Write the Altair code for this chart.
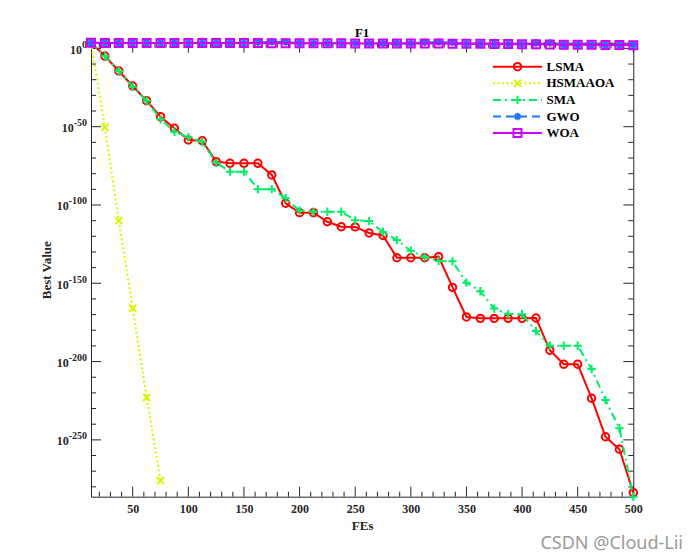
import altair as alt
import pandas as pd

# ---------------- data (log10 of Best Value) ----------------
FES = [12.5, 25, 37.5, 50, 62.5, 75, 87.5, 100, 112.5, 125, 137.5, 150, 162.5, 175,
       187.5, 200, 212.5, 225, 237.5, 250, 262.5, 275, 287.5, 300, 312.5, 325, 337.5,
       350, 362.5, 375, 387.5, 400, 412.5, 425, 437.5, 450, 462.5, 475, 487.5, 500]

LSMA = [3.6, -4.9, -14.4, -24, -33.4, -43.6, -51, -58.5, -58.9, -72.3, -73.4, -73.4,
        -73.4, -80.8, -98.9, -104.9, -104.9, -110.7, -113.9, -114, -117.9, -119.5,
        -133.7, -133.7, -133.7, -133, -152.6, -171.5, -172.4, -172.4, -172.4, -172.4,
        -172.2, -192.8, -201.7, -201.7, -223.4, -248, -256, -283.7]

HSMAAOA = [3.6, -50.4, -110, -166, -223, -276]

SMA = [3.6, -4.9, -14.4, -24.5, -33.4, -45.3, -53.2, -56.8, -59.6, -73, -78.7, -78.7,
       -89.9, -89.9, -95.7, -103.6, -104.3, -104.3, -104.3, -109.8, -110.3, -117.2,
       -122.4, -129.2, -133.2, -135.7, -136, -149.6, -155.1, -166.1, -169.6, -169.8,
       -180.5, -189.9, -189.9, -189.9, -204.8, -224.5, -242.6, -286.3]

GWO = [3.6, 3.5, 3.5, 3.5, 3.5, 3.5, 3.5, 3.4, 3.4, 3.4, 3.4, 3.4, 3.9, 4.2, 4.1, 3.4,
       3.3, 3.3, 3.3, 3.2, 3.2, 3.2, 3.2, 3.1, 3.9, 4.0, 3.8, 3.0, 2.9, 2.8, 2.8, 2.7,
       3.4, 3.5, 2.4, 2.3, 2.3, 2.2, 2.1, 2.3]

WOA = [3.6, 3.5, 3.5, 3.5, 3.5, 3.5, 3.5, 3.4, 3.4, 3.4, 3.4, 3.4, 3.4, 3.3, 3.3, 3.3,
       3.3, 3.3, 3.3, 3.2, 3.2, 3.2, 3.2, 3.1, 3.1, 3.1, 3.0, 3.0, 2.9, 2.8, 2.8, 2.7,
       2.6, 2.5, 2.4, 2.3, 2.3, 2.2, 2.1, 2.0]

NAMES = ["LSMA", "HSMAAOA", "SMA", "GWO", "WOA"]

X_MAJOR = [50, 100, 150, 200, 250, 300, 350, 400, 450, 500]
X_MINOR = [20, 30, 40, 60, 70, 80, 90, 110, 120, 130, 140, 160, 170, 180, 190, 210,
           220, 230, 240, 260, 270, 280, 290, 310, 320, 330, 340, 360, 370, 380, 390,
           410, 420, 430, 440, 460, 470, 480, 490]
Y_MAJOR = [0, -50, -100, -150, -200, -250]
Y_EXP_LABELS = ["0", "-50", "-100", "-150", "-200", "-250"]
Y_MINOR = [-10, -20, -30, -40, -60, -70, -80, -90, -110, -120, -130, -140, -160, -170,
           -180, -190, -210, -220, -230, -240, -260, -270, -280]

X_DOMAIN = [12.5, 500]
Y_DOMAIN = [-286.3, 3.64]

# ---------------- styles ----------------
W, H = 542.3, 454
FONT = "Liberation Serif"
AX = "#262626"
EXP_FS = 10      # superscript font size
BASE_FS = 12     # "10" font size

STYLE = {
    "LSMA":    dict(color="#FF0000", dash=[1, 0], shape="circle", size=55),
    "HSMAAOA": dict(color="#D8F500", dash=[2, 2.5], shape="M-1,-1L1,1M-1,1L1,-1", size=50),
    "SMA":     dict(color="#00EE66", dash=[8, 4, 2, 4], shape="M-1,0H1M0,-1V1", size=70),
    "GWO":     dict(color="#1A75FF", dash=[8, 5],
                    shape="M-1,0H1M0,-1V1M-0.7,-0.7L0.7,0.7M-0.7,0.7L0.7,-0.7", size=55),
    "WOA":     dict(color="#CC00FF", dash=[1, 0], shape="square", size=64),
}
SERIES = {"LSMA": LSMA, "HSMAAOA": HSMAAOA, "SMA": SMA, "GWO": GWO, "WOA": WOA}

xscale = alt.Scale(domain=X_DOMAIN, nice=False, zero=False)
yscale = alt.Scale(domain=Y_DOMAIN, nice=False, zero=False)
xaxis = alt.Axis(values=X_MAJOR, title="FEs", titleX=W / 2, titleY=29,
                 titleBaseline="middle", titleAlign="center", labelPadding=7,
                 labelFlush=False)
yaxis = alt.Axis(values=Y_MAJOR, title="Best Value", labels=False,
                 titleX=-45, titleY=H / 2, titleBaseline="middle", titleAlign="center")


def X(field="x"):
    return alt.X(f"{field}:Q", scale=xscale, axis=xaxis)


def Y(field="e"):
    return alt.Y(f"{field}:Q", scale=yscale, axis=yaxis)


layers = []

# inward ticks (box on all four sides)
ymaj = alt.Data(values=[{"e": v} for v in Y_MAJOR])
ymin = alt.Data(values=[{"e": v} for v in Y_MINOR])
xmaj = alt.Data(values=[{"x": v} for v in X_MAJOR])
xmin = alt.Data(values=[{"x": v} for v in X_MINOR])
tick = dict(color=AX, strokeWidth=1)
for data, ln in ((ymaj, 10), (ymin, 5)):
    layers.append(alt.Chart(data).mark_rule(**tick).encode(
        y=Y(), x=alt.value(0), x2=alt.value(ln)))
    layers.append(alt.Chart(data).mark_rule(**tick).encode(
        y=Y(), x=alt.value(W), x2=alt.value(W - ln)))
for data, ln in ((xmaj, 10), (xmin, 5)):
    layers.append(alt.Chart(data).mark_rule(**tick).encode(
        x=X(), y=alt.value(H), y2=alt.value(H - ln)))
    layers.append(alt.Chart(data).mark_rule(**tick).encode(
        x=X(), y=alt.value(0), y2=alt.value(ln)))

# y tick labels: "10" with a raised exponent (MATLAB style)
ylab = alt.Data(values=[{"e": v, "exp": s} for v, s in zip(Y_MAJOR, Y_EXP_LABELS)])
lab_kw = dict(font=FONT, fontWeight="bold", color=AX, baseline="middle", align="right")
layers.append(alt.Chart(ylab).mark_text(fontSize=EXP_FS, dy=-3.5, **lab_kw).encode(
    y=Y(), x=alt.value(-4), text="exp:N"))
# exponent widths (Times bold: digit 0.5em, hyphen 0.333em)
for nlen in (1, 3, 4):
    digits = nlen - (1 if nlen > 1 else 0)
    wexp = EXP_FS * (0.5 * digits + (0.333 if nlen > 1 else 0))
    layers.append(alt.Chart(ylab).transform_filter(f"length(datum.exp) == {nlen}")
                  .mark_text(fontSize=BASE_FS, dy=1.5, **lab_kw)
                  .encode(y=Y(), x=alt.value(-4 - wexp), text=alt.value("10")))

# series
for name in NAMES:
    vals = SERIES[name]
    st = STYLE[name]
    df = pd.DataFrame({"x": FES[:len(vals)], "e": vals})
    base = alt.Chart(df)
    line_kw = dict(color=st["color"], strokeWidth=2)
    if st["dash"] != [1, 0]:
        line_kw["strokeDash"] = st["dash"]
    layers.append(base.mark_line(**line_kw).encode(x=X(), y=Y()))
    layers.append(base.mark_point(shape=st["shape"], size=st["size"], filled=False,
                                  stroke=st["color"], strokeWidth=2, opacity=1)
                  .encode(x=X(), y=Y()))

# legend (MATLAB style, inside the axes, no box)
one = alt.Data(values=[{}])
for i, name in enumerate(NAMES):
    st = STYLE[name]
    yy = 24 + 16.6 * i
    rk = dict(color=st["color"], strokeWidth=2)
    if st["dash"] != [1, 0]:
        rk["strokeDash"] = st["dash"]
    layers.append(alt.Chart(one).mark_rule(**rk).encode(
        x=alt.value(402), x2=alt.value(451), y=alt.value(yy)))
    layers.append(alt.Chart(one).mark_point(shape=st["shape"], size=st["size"], filled=False,
                                            stroke=st["color"], strokeWidth=2, opacity=1)
                  .encode(x=alt.value(426.5), y=alt.value(yy)))
    layers.append(alt.Chart(one).mark_text(align="left", baseline="middle", font=FONT,
                                           fontWeight="bold", fontSize=13, color="#000000")
                  .encode(x=alt.value(455.5), y=alt.value(yy), text=alt.value(name)))

# title
layers.append(alt.Chart(one).mark_text(align="center", baseline="middle", font=FONT,
                                       fontWeight="bold", fontSize=13, color="#000000")
              .encode(x=alt.value(W / 2), y=alt.value(-10), text=alt.value("F1")))

# watermark
layers.append(alt.Chart(one).mark_text(align="right", baseline="middle", font="Noto Sans",
                                       fontSize=18, color="#9a9a9a")
              .encode(x=alt.value(592), y=alt.value(501), text=alt.value("CSDN @Cloud-Lii")))

chart = alt.layer(*layers).properties(
    width=W, height=H,
    padding={"left": 91, "top": 42.7, "right": 700 - 91 - W, "bottom": 560 - 42.7 - H},
    autosize=alt.AutoSizeParams(type="none"),
    background="white",
).configure_view(
    stroke=AX, strokeWidth=1
).configure_axis(
    grid=False, ticks=False, tickSize=0, domain=False,
    labelFont=FONT, labelFontWeight="bold", labelFontSize=12, labelColor=AX,
    titleFont=FONT, titleFontWeight="bold", titleFontSize=13, titleColor=AX,
)

chart.save("out.html", embed_options={"renderer": "svg", "actions": False})
